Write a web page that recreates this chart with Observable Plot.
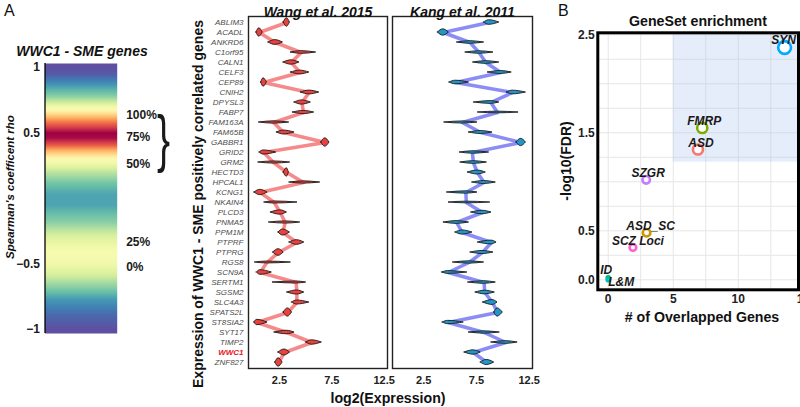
<!DOCTYPE html>
<html><head><meta charset="utf-8">
<script src="https://cdn.jsdelivr.net/npm/d3@7"></script>
<script src="https://cdn.jsdelivr.net/npm/@observablehq/plot@0.6"></script>
<style>
body{margin:0;background:#fff;}
#root{position:relative;width:800px;height:407px;overflow:hidden;background:#fff;font-family:"Liberation Sans",Arial,sans-serif;}
.abs{position:absolute;top:0;}
.lbl{position:absolute;white-space:nowrap;font-weight:bold;color:#111;line-height:1;}
</style></head><body><div id="root"></div>
<script>
// ---------- Panel A (left): colour bar of SME gene correlation density ----------
const rhoStops = [1, 0.95, 0.87, 0.78, 0.69, 0.62, 0.56, 0.5, 0.46, 0.41, 0.37, 0.3, 0.2, 0.12, 0.03, -0.05, -0.18, -0.28, -0.4, -0.48, -0.58, -0.66, -0.77, -0.9, -1];
const density  = [0, 0.02, 0.12, 0.25, 0.47, 0.68, 0.85, 1, 0.98, 0.85, 0.7, 0.5, 0.33, 0.22, 0.15, 0.15, 0.25, 0.38, 0.47, 0.46, 0.38, 0.27, 0.13, 0.04, 0];
const rhoTicks = [1, 0.5, -0.5, -1];
const pctLabels = ["100%", "75%", "50%", "25%", "0%"];
const pctRho = [0.634, 0.466, 0.26, -0.336, -0.527];

// ---------- Panel A (middle): expression of SME positively correlated genes ----------
const genes = ["ABLIM3","ACADL","ANKRD6","C1orf95","CALN1","CELF3","CEP89","CNIH2","DPYSL3","FABP7","FAM163A","FAM65B","GABBR1","GRID2","GRM2","HECTD3","HPCAL1","KCNG1","NKAIN4","PLCD3","PNMA5","PPM1M","PTPRF","PTPRG","RGS8","SCN9A","SERTM1","SGSM2","SLC4A3","SPATS2L","ST8SIA2","SYT17","TIMP2","WWC1","ZNF827"];
const wangMean = [3.2, 0.57, 2.09, 4.58, 3.62, 4.48, 0.98, 5.34, 4.64, 4.8, 1.94, 2.89, 6.87, 0.98, 1.94, 3.2, 4.8, 0.66, 2.0, 2.57, 3.05, 2.82, 4.16, 2.41, 1.3, 0.66, 4.1, 4.16, 4.16, 3.3, 0.34, 3.2, 5.6, 2.98, 2.41];
const wangLo   = [2.9, 0.3, 1.45, 3.59, 2.89, 3.59, 0.75, 4.55, 3.94, 3.78, 0.56, 2.25, 6.49, 0.6, 0.5, 2.9, 3.46, 0.11, 1.07, 1.68, 1.52, 2.4, 3.46, 1.9, 0.18, 0.34, 1.87, 3.25, 3.7, 2.9, 0.11, 2.03, 5.05, 2.4, 2.1];
const wangHi   = [3.5, 0.9, 2.83, 6.0, 4.41, 5.35, 1.3, 6.3, 5.5, 5.82, 3.43, 3.94, 7.28, 2.19, 3.52, 3.4, 6.39, 1.36, 4.22, 3.21, 4.48, 3.5, 4.87, 2.9, 3.59, 1.77, 5.05, 4.87, 5.35, 3.7, 1.36, 3.94, 6.55, 3.5, 2.8];
const kangMean = [8.71, 4.35, 6.9, 7.75, 8.39, 9.82, 5.52, 10.94, 8.87, 9.5, 6.16, 7.91, 11.73, 7.12, 7.21, 7.59, 8.23, 6.5, 6.54, 8.07, 5.62, 6.16, 8.93, 8.07, 6.8, 4.82, 8.23, 8.29, 9.03, 9.5, 4.82, 8.23, 10.3, 7.21, 8.48];
const kangLo   = [8.23, 3.84, 5.68, 6.48, 7.21, 8.6, 4.95, 10.4, 7.28, 7.66, 4.47, 6.8, 11.3, 5.94, 6.0, 6.7, 7.12, 4.73, 4.89, 7.02, 4.41, 5.52, 7.66, 6.95, 5.3, 4.25, 6.73, 7.43, 8.14, 9.2, 4.3, 6.8, 8.93, 6.38, 7.91];
const kangHi   = [9.67, 4.89, 8.23, 9.12, 9.67, 10.85, 6.8, 12.2, 9.67, 11.5, 7.6, 9.03, 12.2, 8.71, 8.5, 8.39, 9.34, 7.6, 8.81, 8.93, 6.8, 7.12, 9.41, 9.12, 8.23, 6.64, 9.34, 9.25, 9.5, 10.0, 6.3, 9.72, 11.41, 7.91, 9.19];
const exprTicks = [2.5, 7.5, 12.5];
const datasets = ["Wang et al. 2015", "Kang et al. 2011"];

// ---------- Panel B: GeneSet enrichment ----------
const geneSets   = ["ASD", "ASD_SC", "FMRP", "ID", "L&M", "SYN", "SZGR", "SCZ Loci"];
const overlapped = [6.9, 2.95, 7.23, 0, 0, 13.56, 2.92, 1.9];
const negLogFDR  = [1.33, 0.48, 1.55, 0.02, 0, 2.37, 1.02, 0.33];
const setColors  = ["#F8766D", "#CD9600", "#7CAE00", "#00BE67", "#00BFC4", "#00A9FF", "#C77CFF", "#FF61CC"];
const labelNudge = [[3, -6], [4, -7], [2, -7], [-2, -8], [13, 2], [-1, -7], [2, -6.5], [5, -6.6]];
const overlapTicks = [0, 5, 10, 15];
const fdrTicks = [0, 0.5, 1.5, 2.5];
const highlight = {x1: 5, x2: 15, y1: 1.2, y2: 2.6};

// ---------- helpers ----------
const root = document.getElementById("root");
const FONT = "Liberation Sans, Arial, sans-serif";
function place(svg, left, top) {
  const d = document.createElement("div");
  d.className = "abs"; d.style.left = left + "px"; d.style.top = (top || 0) + "px";
  d.appendChild(svg); root.appendChild(d);
}
function label(text, cx, cy, size, o = {}) {
  const d = document.createElement("div");
  d.className = "lbl"; d.textContent = text;
  d.style.left = cx + "px"; d.style.top = cy + "px"; d.style.fontSize = size + "px";
  d.style.transform = "translate(-50%,-50%)" + (o.rotate ? ` rotate(${o.rotate}deg)` : "");
  if (o.italic) d.style.fontStyle = "italic";
  if (o.weight) d.style.fontWeight = o.weight;
  if (o.left !== undefined) { d.style.transform = "none"; d.style.left = o.left + "px"; d.style.top = o.top + "px"; }
  root.appendChild(d);
}
const minusFmt = d => (d < 0 ? "\u2212" : "") + Math.abs(d);

// ---------- colour bar ----------
const dens = d3.scaleLinear().domain(rhoStops).range(density);
const bar = Plot.plot({
  width: 200, height: 407, marginLeft: 44.5, marginRight: 83.3, marginTop: 63, marginBottom: 74,
  style: {background: "transparent", fontFamily: FONT, fontSize: "12px", fontWeight: "bold", color: "#1a1a1a", overflow: "visible"},
  x: {domain: [0, 1], axis: null},
  y: {domain: [-1.03, 1.03], ticks: rhoTicks, tickFormat: minusFmt, tickSize: 0, tickPadding: 5, label: null},
  color: {type: "linear", scheme: "spectral", reverse: true, domain: [0, 1]},
  marks: [
    Plot.raster({x1: 0, x2: 1, y1: -1.03, y2: 1.03, width: 2, height: 270, fill: (x, y) => dens(y)}),
    Plot.ruleX([0], {stroke: "black", strokeWidth: 1.3}),
    Plot.text(pctLabels, {y: (d, i) => pctRho[i], text: d => d, frameAnchor: "right", dx: 9, textAnchor: "start", fontSize: 12, fontWeight: "bold"}),
    Plot.text(["}"], {y: () => (pctRho[0] + pctRho[2]) / 2, text: d => d, frameAnchor: "right", dx: 53, fontSize: 27, fontWeight: "normal"})
  ]
});
bar.querySelectorAll("text").forEach(t => {
  if (t.textContent === "}") {
    const tr = t.getAttribute("transform");
    if (tr && !t.getAttribute("x")) t.setAttribute("transform", tr + " scale(1.45,2.35)");
    else {
      const x = +t.getAttribute("x") || 0, y = +t.getAttribute("y") || 0;
      t.setAttribute("transform", `translate(${x},${y}) scale(1.45,2.35) translate(${-x},${-y})`);
    }
  }
});
place(bar, 0);

// ---------- expression panels ----------
function exprPanel(mean, lo, hi, title, fill, lineColor, withLabels, width, mL, mR) {
  const rows = genes.map((g, i) => ({g, i, mean: mean[i], lo: lo[i], hi: hi[i]}));
  const lens = rows.flatMap(r => {
    const h = Math.min(0.42, 0.33 / (r.hi - r.lo));
    return [{g: r.g, i: r.i, x: r.lo, h: 0}, {g: r.g, i: r.i, x: r.mean, h}, {g: r.g, i: r.i, x: r.hi, h: 0}];
  });
  const marks = [
    Plot.frame({stroke: "#222", strokeWidth: 1.4}),
    Plot.line(rows, {x: "mean", y: "i", stroke: lineColor, strokeWidth: 3.5, strokeOpacity: 0.6}),
    Plot.areaY(lens, {x: "x", y1: d => d.i - d.h, y2: d => d.i + d.h, z: "g", fill, stroke: "#1a1a1a", strokeWidth: 0.9, curve: "monotone-x"}),
    Plot.text([title], {text: d => d, frameAnchor: "top", dy: -9, fontSize: 14, fontStyle: "italic", fontWeight: "bold", fill: "#111"})
  ];
  if (withLabels) {
    marks.push(Plot.text(rows.filter(r => r.g !== "WWC1"), {y: "i", text: "g", frameAnchor: "left", dx: -5, textAnchor: "end", fontSize: 8, fontStyle: "italic", fontWeight: "normal", fill: "#4d4d4d"}));
    marks.push(Plot.text(rows.filter(r => r.g === "WWC1"), {y: "i", text: "g", frameAnchor: "left", dx: -5, textAnchor: "end", fontSize: 8, fontStyle: "italic", fontWeight: "bold", fill: "#e8141b"}));
  }
  return Plot.plot({
    width, height: 407, marginLeft: mL, marginRight: mR, marginTop: 16, marginBottom: 39,
    style: {background: "transparent", fontFamily: FONT, fontSize: "11px", fontWeight: "bold", color: "#222", overflow: "visible"},
    x: {domain: [-0.46, 12.82], ticks: exprTicks, tickFormat: d3.format(".1f"), tickSize: 0, tickPadding: 8, label: null},
    y: {domain: [-0.6, 34.6], reverse: true, axis: null},
    marks
  });
}
place(exprPanel(wangMean, wangLo, wangHi, datasets[0], "#e8413e", "#f03c3c", true, 239, 98, 2), 150);
place(exprPanel(kangMean, kangLo, kangHi, datasets[1], "#2196c8", "#4040ee", false, 145, 3, 2), 389);

// ---------- enrichment panel ----------
const setRows = geneSets.map((s, i) => ({s, n: overlapped[i], f: negLogFDR[i], c: setColors[i]}));
const gridX = d3.range(0, 13, 2.5);
const gridY = d3.range(0, 2.51, 0.25);
const bMarks = [
  Plot.ruleX(gridX, {stroke: "#e6e6e6", strokeWidth: 1}),
  Plot.ruleY(gridY, {stroke: "#e6e6e6", strokeWidth: 1}),
  Plot.rect([highlight], {x1: "x1", x2: "x2", y1: "y1", y2: "y2", fill: "#aabff0", fillOpacity: 0.3, clip: true}),
  Plot.dot(setRows, {x: "n", y: "f", r: "n", stroke: "c", fill: "white", strokeWidth: 2.6})
];
setRows.forEach((r, i) => bMarks.push(Plot.text([r], {x: "n", y: "f", text: "s", dx: labelNudge[i][0], dy: labelNudge[i][1], fontSize: 12, fontStyle: "italic", fontWeight: "bold", fill: "#1a1a1a"})));
bMarks.push(Plot.frame({stroke: "black", strokeWidth: 3}));
const bPlot = Plot.plot({
  width: 245, height: 407, marginLeft: 42.3, marginRight: 2, marginTop: 32.3, marginBottom: 117.7,
  style: {background: "transparent", fontFamily: FONT, fontSize: "12px", fontWeight: "bold", color: "#222", overflow: "visible"},
  x: {domain: [-0.8, 14.63], ticks: overlapTicks, tickSize: 0, tickPadding: 5, label: null},
  y: {domain: [-0.102, 2.52], ticks: fdrTicks, tickFormat: d3.format(".1f"), tickSize: 0, tickPadding: 3, label: null},
  r: {type: "sqrt", domain: [0, 14], range: [1.5, 6.5]},
  color: {type: "identity"},
  marks: bMarks
});
place(bPlot, 555);

// ---------- titles & labels ----------
label("A", 0, 0, 16, {weight: "normal", left: 4, top: 3});
label("B", 0, 0, 16, {weight: "normal", left: 558, top: 3});
label("WWC1 - SME genes", 82, 51, 14, {italic: true});
label("Spearman's coefficent rho", 11, 187, 11.5, {italic: true, rotate: -90});
label("Expression of WWC1 - SME positively correlated genes", 198, 204, 14, {rotate: -90});
label("log2(Expression)", 388, 398, 14.2);
label("GeneSet enrichment", 698, 21, 14.2);
label("-log10(FDR)", 566, 161, 14, {rotate: -90});
label("# of Overlapped Genes", 702, 317, 14.2);
</script></body></html>
